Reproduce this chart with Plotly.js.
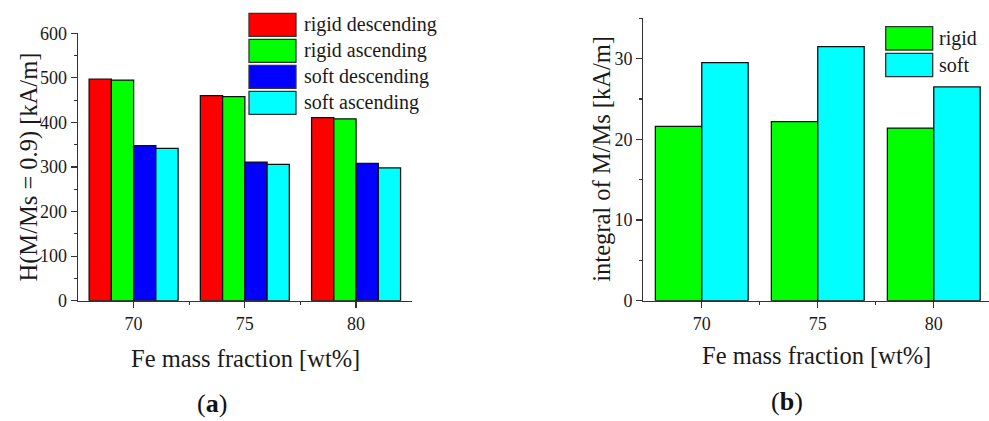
<!DOCTYPE html>
<html>
<head>
<meta charset="utf-8">
<script src="https://cdn.plot.ly/plotly-3.0.1.min.js"></script>
<style>html,body{margin:0;padding:0;background:#fff;}#chart{width:989px;height:421px;}</style>
</head>
<body>
<div id="chart"></div>
<script>
// ---- data ----
const categories = [70, 75, 80];
const seriesNamesA = ["rigid descending", "rigid ascending", "soft descending", "soft ascending"];
const rigidDescending = [497, 460, 411];
const rigidAscending = [495, 458, 408];
const softDescending = [348, 311, 308];
const softAscending = [342, 306, 298];
const seriesNamesB = ["rigid", "soft"];
const integralRigid = [21.6, 22.2, 21.4];
const integralSoft = [29.5, 31.5, 26.5];
const yTicksA = [0, 100, 200, 300, 400, 500, 600];
const yTicksB = [0, 10, 20, 30];

// ---- styling ----
const W = 989, H = 421;
const FONT = "Liberation Serif";
const TXT = "#1a1a1a";
const colorsA = ["#ff0000", "#00ff00", "#0000ff", "#00ffff"];
const colorsB = ["#00ff00", "#00ffff"];
const px = x => x / W;
const py = y => 1 - y / H;

const valuesA = [rigidDescending, rigidAscending, softDescending, softAscending];
const valuesB = [integralRigid, integralSoft];

const traces = [];
valuesA.forEach((v, i) => traces.push({
  type: "bar", x: categories, y: v, name: seriesNamesA[i], xaxis: "x", yaxis: "y",
  marker: {color: colorsA[i], line: {color: "#111", width: 1.3}}, showlegend: false, hoverinfo: "x+y"
}));
valuesB.forEach((v, i) => traces.push({
  type: "bar", x: categories, y: v, name: seriesNamesB[i], xaxis: "x2", yaxis: "y2",
  marker: {color: colorsB[i], line: {color: "#111", width: 1.3}}, showlegend: false, hoverinfo: "x+y"
}));

function axis(extra) {
  return Object.assign({
    showline: true, linecolor: "#333", linewidth: 1.3, showgrid: false, zeroline: false,
    ticks: "outside", ticklen: 6, tickwidth: 1.2, tickcolor: "#333",
    tickfont: {family: FONT, size: 18, color: TXT}, fixedrange: true
  }, extra);
}

const shapes = [];
const annotations = [];

// legend A
seriesNamesA.forEach((n, i) => {
  const top = 13.3 + i * 26;
  shapes.push({type: "rect", xref: "paper", yref: "paper", x0: px(249), x1: px(296), y0: py(top), y1: py(top + 23),
    fillcolor: colorsA[i], line: {color: "#333", width: 1.3}});
  annotations.push({xref: "paper", yref: "paper", x: px(302), y: py(top + 11.5), xanchor: "left", yanchor: "middle",
    text: n, showarrow: false, font: {family: FONT, size: 20, color: TXT}});
});
// legend B
seriesNamesB.forEach((n, i) => {
  const top = 26.7 + i * 26.6;
  shapes.push({type: "rect", xref: "paper", yref: "paper", x0: px(885.7), x1: px(932.7), y0: py(top), y1: py(top + 23.3),
    fillcolor: colorsB[i], line: {color: "#333", width: 1.3}});
  annotations.push({xref: "paper", yref: "paper", x: px(937), y: py(top + 11.5), xanchor: "left", yanchor: "middle",
    text: n, showarrow: false, font: {family: FONT, size: 20, color: TXT}});
});

// axis titles & panel labels
const titleFont = {family: FONT, size: 24.5, color: TXT};
annotations.push(
  {xref: "paper", yref: "paper", x: px(245), y: py(358), text: "Fe mass fraction [wt%]", showarrow: false, font: titleFont, xanchor: "center", yanchor: "middle"},
  {xref: "paper", yref: "paper", x: px(816.7), y: py(355), text: "Fe mass fraction [wt%]", showarrow: false, font: titleFont, xanchor: "center", yanchor: "middle"},
  {xref: "paper", yref: "paper", x: px(28), y: py(167.5), text: "H(M/Ms = 0.9) [kA/m]", textangle: -90, showarrow: false, font: titleFont, xanchor: "center", yanchor: "middle"},
  {xref: "paper", yref: "paper", x: px(601.7), y: py(159), text: "integral of M/Ms [kA/m]", textangle: -90, showarrow: false, font: titleFont, xanchor: "center", yanchor: "middle"},
  {xref: "paper", yref: "paper", x: px(211.7), y: py(403), text: "(<b>a</b>)", showarrow: false, font: {family: FONT, size: 26, color: "#111"}, xanchor: "center", yanchor: "middle"},
  {xref: "paper", yref: "paper", x: px(786.7), y: py(401), text: "(<b>b</b>)", showarrow: false, font: {family: FONT, size: 26, color: "#111"}, xanchor: "center", yanchor: "middle"}
);

const layout = {
  width: W, height: H, margin: {l: 0, r: 0, t: 0, b: 0},
  font: {family: FONT, size: 18, color: TXT},
  paper_bgcolor: "#fff", plot_bgcolor: "rgba(0,0,0,0)",
  barmode: "group", bargap: 0.2, bargroupgap: 0, showlegend: false,
  xaxis: axis({domain: [px(78), px(411.7)], range: [67.5, 82.5], tickmode: "array", tickvals: categories,
    minor: {tickvals: [72.5, 77.5], ticks: "outside", ticklen: 3, tickwidth: 1.2, tickcolor: "#333"}, anchor: "y"}),
  yaxis: axis({domain: [py(300.7), py(33.3)], range: [0, 600], tickmode: "array", tickvals: yTicksA,
    minor: {dtick: 50, ticks: "outside", ticklen: 3, tickwidth: 1.2, tickcolor: "#333"}, anchor: "x"}),
  xaxis2: axis({domain: [px(643.3), 1], range: [67.48, 82.38], tickmode: "array", tickvals: categories,
    minor: {tickvals: [72.5, 77.5], ticks: "outside", ticklen: 3, tickwidth: 1.2, tickcolor: "#333"}, anchor: "y2"}),
  yaxis2: axis({domain: [py(300.7), py(18.3)], range: [0, 35], tickmode: "array", tickvals: yTicksB,
    minor: {dtick: 5, ticks: "outside", ticklen: 3, tickwidth: 1.2, tickcolor: "#333"}, anchor: "x2"}),
  shapes: shapes, annotations: annotations
};

Plotly.newPlot("chart", traces, layout, {staticPlot: true, displayModeBar: false});
</script>
</body>
</html>
